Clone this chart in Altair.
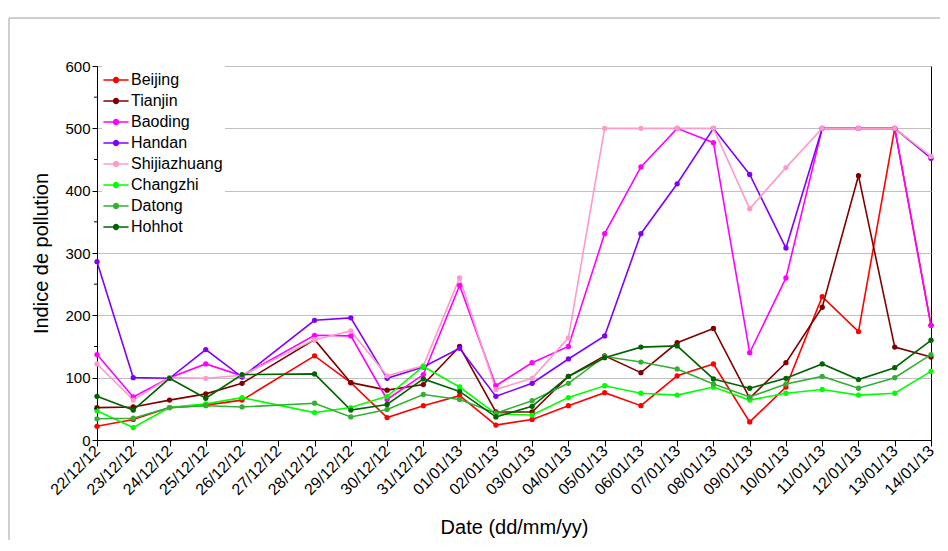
import altair as alt
import pandas as pd

dates = ["22/12/12", "23/12/12", "24/12/12", "25/12/12", "26/12/12", "27/12/12",
         "28/12/12", "29/12/12", "30/12/12", "31/12/12", "01/01/13", "02/01/13",
         "03/01/13", "04/01/13", "05/01/13", "06/01/13", "07/01/13", "08/01/13",
         "09/01/13", "10/01/13", "11/01/13", "12/01/13", "13/01/13", "14/01/13"]

cities = ["Beijing", "Tianjin", "Baoding", "Handan", "Shijiazhuang",
          "Changzhi", "Datong", "Hohhot"]
colors = ["#FF0000", "#800000", "#FF00FF", "#8000FF", "#FF99CC",
          "#00FF00", "#33B033", "#006400"]

beijing = [22, 33, 52, 56, 64, None, 135, 92, 36, 55, 71, 24, 33, 55, 76, 55, 103, 122, 29, 85, 230, 174, 500, 184]
tianjin = [52, 53, 64, 74, 91, None, 161, 92, 80, 89, 150, 45, 45, 102, 135, 108, 156, 179, 67, 124, 213, 424, 149, 133]
baoding = [137, 69, 100, 122, 103, None, 168, 167, 65, 105, 248, 87, 124, 150, 331, 438, 500, 477, 140, 260, 500, 500, 500, 184]
handan = [286, 100, 99, 145, 101, None, 192, 196, 99, 117, 147, 70, 91, 130, 167, 331, 411, 500, 426, 308, 500, 500, 500, 452]
shijiazhuang = [122, 64, 100, 99, 104, None, 161, 175, 103, 119, 260, 81, 99, 164, 500, 500, 500, 500, 371, 437, 500, 500, 500, 455]
changzhi = [47, 20, 52, 58, 68, None, 44, 52, 70, 118, 85, 42, 40, 68, 87, 75, 72, 85, 64, 75, 81, 72, 75, 110]
datong = [34, 35, 52, 55, 53, None, 59, 37, 49, 73, 65, 43, 63, 91, 134, 125, 114, 90, 69, 90, 102, 83, 100, 137]
hohhot = [70, 48, 99, 67, 105, None, 106, 48, 57, 98, 78, 37, 54, 102, 132, 149, 151, 98, 83, 99, 122, 97, 116, 160]

y_ticks = [0, 100, 200, 300, 400, 500, 600]
y_minor = [50, 150, 250, 350, 450, 550]

all_series = [beijing, tianjin, baoding, handan, shijiazhuang, changzhi, datong, hohhot]
rows = []
for ci, (name, vals) in enumerate(zip(cities, all_series)):
    for i, (d, v) in enumerate(zip(dates, vals)):
        if v is not None:
            rows.append({"city": name, "ci": ci, "date": d, "idx": i, "value": v})
df = pd.DataFrame(rows)

FONT = "Liberation Sans"
legend_symbol = ("M-1.15,0L1.15,0M-0.22,0A0.22,0.22,0,1,1,0.22,0"
                 "A0.22,0.22,0,1,1,-0.22,0Z")

y_axis = alt.Axis(title="Indice de pollution", values=y_ticks,
                  labelFontSize=15, tickSize=5, titleFontSize=20,
                  titlePadding=13, grid=True, gridColor="#C0C0C0",
                  gridWidth=1)
y_scale = alt.Scale(domain=[0, 600], nice=False)

x_enc = alt.X("date:O", sort=dates,
              scale=alt.Scale(type="point", domain=dates, padding=0),
              axis=alt.Axis(title="Date (dd/mm/yy)", labelAngle=-45,
                            labelAlign="right", labelBaseline="middle",
                            labelFontSize=16, labelPadding=2, tickSize=6,
                            titleFontSize=20, titlePadding=20, grid=False))
y_enc = alt.Y("value:Q", scale=y_scale, axis=y_axis)
color_enc = alt.Color("city:N", sort=cities,
                      scale=alt.Scale(domain=cities, range=colors),
                      legend=alt.Legend(title=None, orient="none", legendX=5,
                                        legendY=0, fillColor="white",
                                        padding=2, labelFontSize=16,
                                        labelFont=FONT, symbolType=legend_symbol,
                                        symbolSize=480, symbolStrokeWidth=1.5,
                                        rowPadding=1, labelOffset=3))

lines = alt.Chart(df).mark_line(
    strokeWidth=1.6,
    point=alt.OverlayMarkDef(filled=True, size=28, opacity=1)
).encode(x=x_enc, y=y_enc, color=color_enc, order=alt.Order("idx:Q"),
         detail="ci:Q")

minor = alt.Chart(pd.DataFrame({"value": y_minor})).mark_rule(
    color="black", strokeWidth=1).encode(
    y=alt.Y("value:Q", scale=y_scale, axis=y_axis),
    x=alt.value(-3), x2=alt.value(0))

frame_top = alt.Chart(pd.DataFrame({"a": [0]})).mark_rule(
    color="#A0A0A0", strokeWidth=1).encode(
    x=alt.value(-88), x2=alt.value(860), y=alt.value(-48))
frame_left = alt.Chart(pd.DataFrame({"a": [0]})).mark_rule(
    color="#A0A0A0", strokeWidth=1).encode(
    x=alt.value(-88), y=alt.value(-48), y2=alt.value(500))

chart = alt.layer(frame_top, frame_left, lines, minor).properties(
    width=834, height=374,
    autosize=alt.AutoSizeParams(type="none"),
    padding={"left": 89, "top": 58, "right": 9, "bottom": 100},
    background="white"
).configure_view(stroke="black", strokeWidth=1).configure_axis(
    domainColor="black", tickColor="black", labelColor="black",
    titleColor="black", labelFont=FONT, titleFont=FONT,
    titleFontWeight="normal"
).configure_legend(labelColor="black")

chart.save("out.html", embed_options={"renderer": "svg", "actions": False})
